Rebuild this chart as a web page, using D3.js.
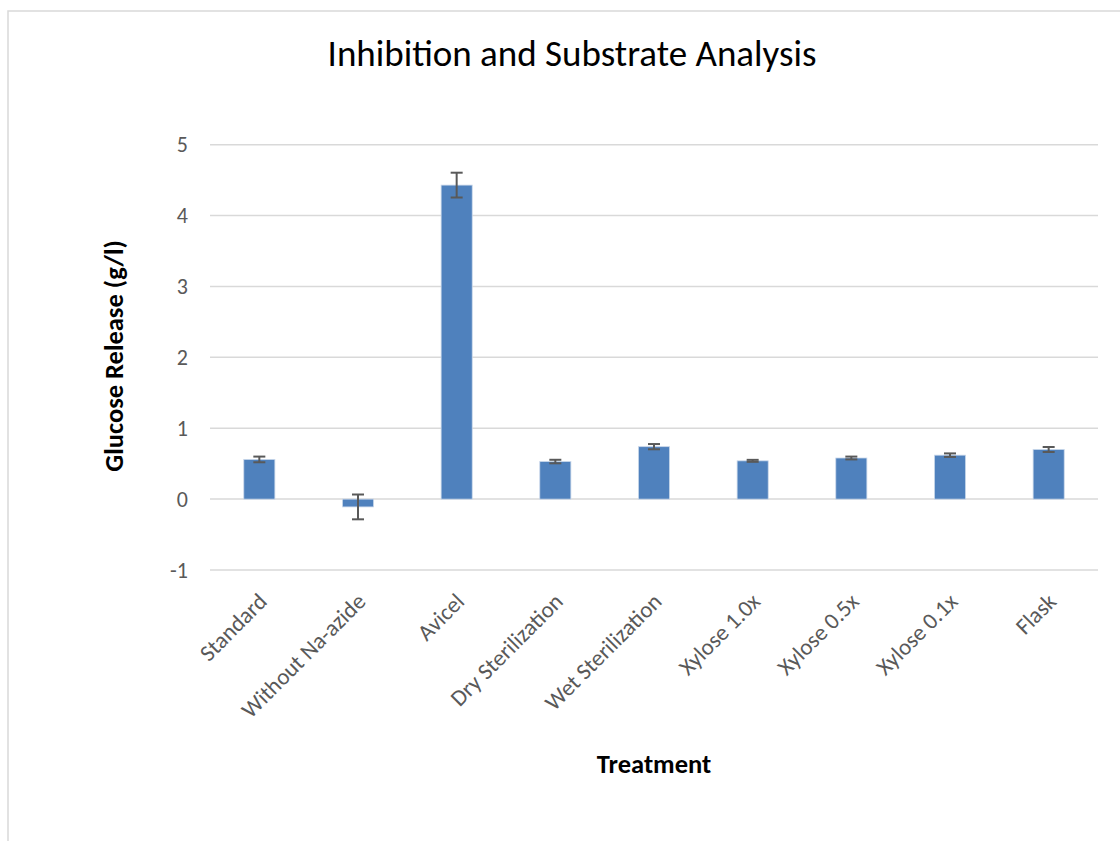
<!DOCTYPE html>
<html>
<head>
<meta charset="utf-8">
<script src="https://cdn.jsdelivr.net/npm/d3@7"></script>
<style>
  body { margin: 0; background: #fff; }
  svg { display: block; }
</style>
</head>
<body>
<svg id="chart" width="1120" height="841"></svg>
<script>
// data
const treatments = ["Standard", "Without Na-azide", "Avicel", "Dry Sterilization", "Wet Sterilization",
                    "Xylose 1.0x", "Xylose 0.5x", "Xylose 0.1x", "Flask"];
const glucose = [0.56, -0.11, 4.43, 0.53, 0.74, 0.54, 0.58, 0.62, 0.70];
const errors = [0.04, 0.175, 0.175, 0.025, 0.037, 0.014, 0.02, 0.025, 0.035];
const yTicks = [-1, 0, 1, 2, 3, 4, 5];

const svg = d3.select("#chart");
const font = "Carlito, Calibri, 'Open Sans', sans-serif";

// chart border (cropped on right and bottom)
svg.append("rect")
    .attr("x", 8).attr("y", 11)
    .attr("width", 1130).attr("height", 850)
    .attr("fill", "none")
    .attr("stroke", "#d9d9d9")
    .attr("stroke-width", 1.5);

const x = d3.scaleBand()
    .domain(treatments)
    .range([210, 1098])
    .paddingInner(0.685)
    .paddingOuter(0.3425);

const y = d3.scaleLinear()
    .domain([-1, 5])
    .range([570, 144.7]);

// gridlines
svg.append("g")
    .selectAll("line")
    .data(yTicks)
    .join("line")
    .attr("x1", 210).attr("x2", 1098)
    .attr("y1", d => y(d)).attr("y2", d => y(d))
    .attr("stroke", "#d9d9d9")
    .attr("stroke-width", 1.5);

// y tick labels
svg.append("g")
    .selectAll("text")
    .data(yTicks)
    .join("text")
    .attr("x", 188)
    .attr("y", d => y(d))
    .attr("dy", "0.35em")
    .attr("text-anchor", "end")
    .attr("font-family", font)
    .attr("font-size", 22)
    .attr("fill", "#595959")
    .text(d => d);

// bars
svg.append("g")
    .selectAll("rect")
    .data(glucose)
    .join("rect")
    .attr("x", (d, i) => x(treatments[i]))
    .attr("width", x.bandwidth())
    .attr("y", d => y(Math.max(0, d)))
    .attr("height", d => Math.abs(y(d) - y(0)))
    .attr("fill", "#4f81bd")
    .attr("stroke", "#c9d7ea")
    .attr("stroke-width", 0.8);

// error bars
const err = svg.append("g")
    .attr("stroke", "#595959")
    .attr("stroke-width", 2);

glucose.forEach((v, i) => {
    const cx = x(treatments[i]) + x.bandwidth() / 2;
    const top = y(v + errors[i]);
    const bot = y(v - errors[i]);
    err.append("line").attr("x1", cx).attr("x2", cx).attr("y1", top).attr("y2", bot);
    err.append("line").attr("x1", cx - 6).attr("x2", cx + 6).attr("y1", top).attr("y2", top);
    err.append("line").attr("x1", cx - 6).attr("x2", cx + 6).attr("y1", bot).attr("y2", bot);
});

// x category labels, rotated 45 degrees
svg.append("g")
    .selectAll("text")
    .data(treatments)
    .join("text")
    .attr("transform", d => `translate(${x(d) + x.bandwidth() / 2 + 9},${603}) rotate(-45)`)
    .attr("text-anchor", "end")
    .attr("font-family", font)
    .attr("font-size", 23)
    .attr("fill", "#595959")
    .text(d => d);

// title
svg.append("text")
    .attr("x", 572)
    .attr("y", 66)
    .attr("text-anchor", "middle")
    .attr("font-family", font)
    .attr("font-size", 37)
    .attr("font-weight", 300)
    .attr("fill", "#000")
    .text("Inhibition and Substrate Analysis");

// axis titles
svg.append("text")
    .attr("x", 654)
    .attr("y", 773)
    .attr("text-anchor", "middle")
    .attr("font-family", font)
    .attr("font-size", 26.5)
    .attr("font-weight", "bold")
    .attr("fill", "#000")
    .text("Treatment");

svg.append("text")
    .attr("transform", "translate(123,356) rotate(-90)")
    .attr("text-anchor", "middle")
    .attr("font-family", font)
    .attr("font-size", 26.5)
    .attr("font-weight", "bold")
    .attr("fill", "#000")
    .text("Glucose Release (g/l)");
</script>
</body>
</html>
